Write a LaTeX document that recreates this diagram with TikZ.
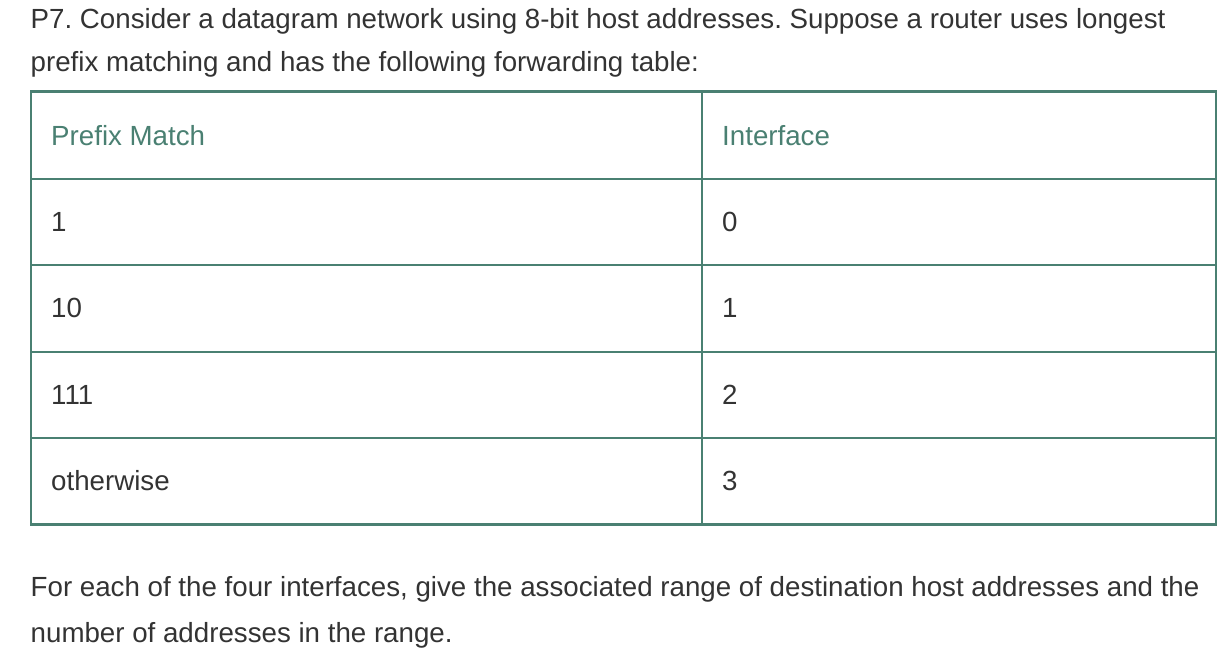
\documentclass[tikz,border=0pt]{standalone}
\usepackage{fontspec}
\setmainfont{Liberation Sans}
\usepackage{xcolor}
\usepackage{tikz}
\usetikzlibrary{positioning}
\frenchspacing
\definecolor{bodygray}{RGB}{51,51,51}
\definecolor{tablegreen}{RGB}{74,128,114}
\tikzstyle{para} = [anchor=base west, inner sep=0pt, text=bodygray, font=\fontsize{27.7}{33}\selectfont]
\tikzstyle{head} = [para, text=tablegreen]
\tikzstyle{cell} = [para]
\tikzstyle{rule} = [draw=tablegreen, line width=2pt]
\tikzstyle{edge} = [draw=tablegreen, line width=3pt]

\begin{document}
\begin{tikzpicture}[x=1pt,y=-1pt]
		\useasboundingbox (0,0) rectangle (1230,658);
		\node (q1) [para] at (30.5,29) {P7. Consider a datagram network using 8-bit host addresses. Suppose a router uses longest};
		\node (q2) [para] at (30.5,72) {prefix matching and has the following forwarding table:};
		% table lines
		\foreach \y in {178.5,265,351.5,437.5} \draw [rule] (31,\y) -- (1216,\y);
		\draw [rule] (31,92) -- (31,524);
		\draw [rule] (702,92) -- (702,524);
		\draw [rule] (1216,92) -- (1216,524);
		\draw [edge] (30,92) -- (1217,92);
		\draw [edge] (30,524) -- (1217,524);
		% table cells
		\node (pm) [head] at (51,145) {Prefix Match};
		\node (itf) [head] at (722,145) {Interface};
		\foreach \p/\i [count=\k] in {1/0,10/1,111/2,otherwise/3} {
			\node (pre\k) [cell] at (51,{145+86.4*\k}) {\p};
			\node (out\k) [cell] at (722,{145+86.4*\k}) {\i};
		}
		\node (a1) [para] at (30.5,596) {For each of the four interfaces, give the associated range of destination host addresses and the};
		\node (a2) [para] at (30.5,642) {number of addresses in the range.};
	\end{tikzpicture}
\end{document}
